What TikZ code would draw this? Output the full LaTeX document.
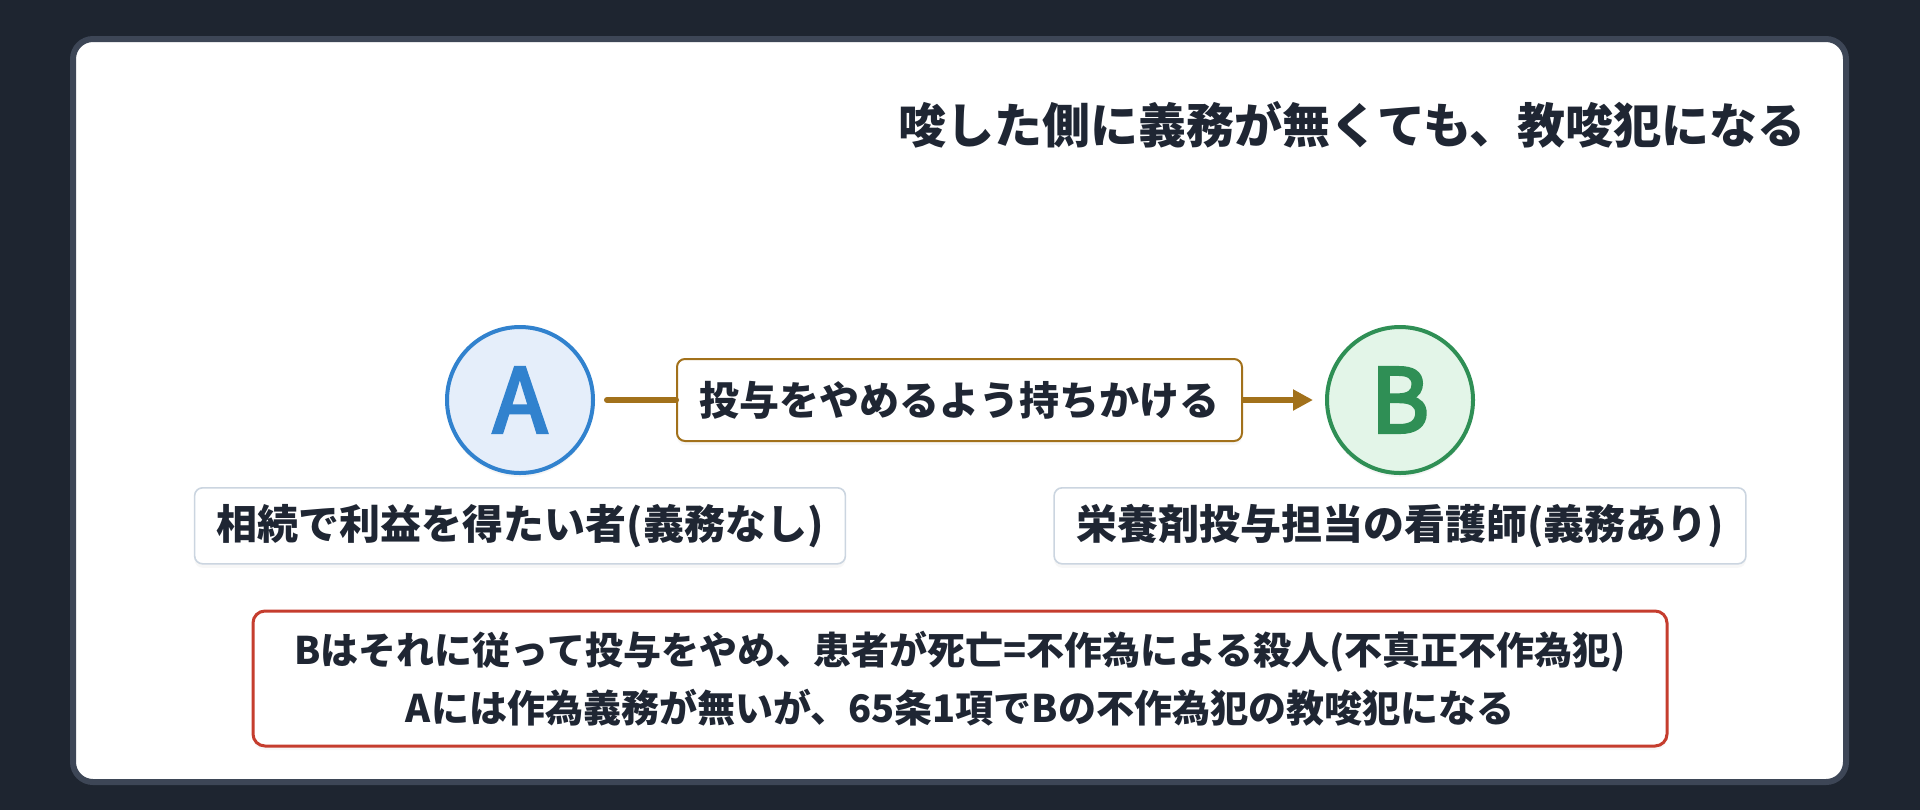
\documentclass[tikz,border=0pt]{standalone}
\usepackage{fontspec}
\setmainfont{Noto Sans CJK JP}
\newfontfamily\letterfont{Noto Sans CJK JP}[FakeBold=4]
\usetikzlibrary{positioning,arrows.meta,shadows}
\definecolor{bgdark}{HTML}{1E2530}
\definecolor{cardedge}{HTML}{3D4656}
\definecolor{ink}{HTML}{1F2633}
\definecolor{blueA}{HTML}{3182CE}
\definecolor{blueFill}{HTML}{E5EEFA}
\definecolor{greenB}{HTML}{2F8F55}
\definecolor{greenFill}{HTML}{E3F5E8}
\definecolor{gold}{HTML}{A2711B}
\definecolor{labeledge}{HTML}{CBD5E0}
\definecolor{noteedge}{HTML}{C53D2E}
\tikzset{party/.style={circle,line width=2pt,minimum size=73pt,inner sep=0pt,
    drop shadow={opacity=0.08,shadow yshift=-2pt,shadow xshift=0pt},
    font=\fontsize{44}{44}\letterfont}}
\tikzset{lbl/.style={draw=labeledge,line width=0.8pt,rounded corners=4pt,fill=white,
    inner xsep=11pt,inner ysep=0pt,minimum height=38pt,text=ink,
    drop shadow={opacity=0.06,shadow yshift=-2pt,shadow xshift=0pt},
    font=\fontsize{20.5}{24}\selectfont\bfseries}}
\tikzset{flow/.style={gold,line width=3pt}}

\begin{document}
\begin{tikzpicture}[x=0.5pt,y=-0.5pt]
        % Frame of the picture
        \useasboundingbox (0,0) rectangle (1920,810);
        \fill[bgdark] (0,0) rectangle (1920,810);
        \draw[cardedge, line width=3pt, fill=white, rounded corners=10pt]
        (73,39) rectangle (1846,782);
        % Heading
        \node[anchor=east, inner sep=0pt, text=ink,
        font=\fontsize{24}{28}\selectfont\bfseries] (title) at (1806,125)
        {唆した側に義務が無くても、教唆犯になる};
        % The two persons
        \node[party, draw=blueA, fill=blueFill, text=blueA] (A) at (520,400) {A};
        \node[party, draw=greenB, fill=greenFill, text=greenB] (B) at (1400,400) {B};
        % What A does
        \node[draw=gold, line width=1pt, rounded corners=4pt, fill=white,
        minimum width=282.5pt, minimum height=41pt, inner sep=0pt, text=ink,
        drop shadow={opacity=0.06,shadow yshift=-2pt,shadow xshift=0pt},
        font=\fontsize{20}{24}\selectfont\bfseries] (act) at (959.5,400)
        {投与をやめるよう持ちかける};
        \draw[flow, line cap=round, shorten <=6pt] (A) -- (act);
        \draw[flow, -{Triangle[length=10pt,width=10pt]}, shorten >=6pt] (act) -- (B);
        % Who they are
        \node[lbl, below=6pt of A] (la) {相続で利益を得たい者(義務なし)};
        \node[lbl, below=6pt of B] (lb) {栄養剤投与担当の看護師(義務あり)};
        % Result
        \node[draw=noteedge, line width=1.5pt, rounded corners=6pt, fill=white,
        minimum width=707pt, minimum height=67.5pt, inner sep=0pt,
        align=center, text=ink,
        drop shadow={opacity=0.06,shadow yshift=-2pt,shadow xshift=0pt},
        font=\fontsize{19}{29}\selectfont\bfseries] (note) at (960,678.5)
        {Bはそれに従って投与をやめ、患者が死亡=不作為による殺人(不真正不作為犯)\\
        Aには作為義務が無いが、65条1項でBの不作為犯の教唆犯になる};
    \end{tikzpicture}
\end{document}
